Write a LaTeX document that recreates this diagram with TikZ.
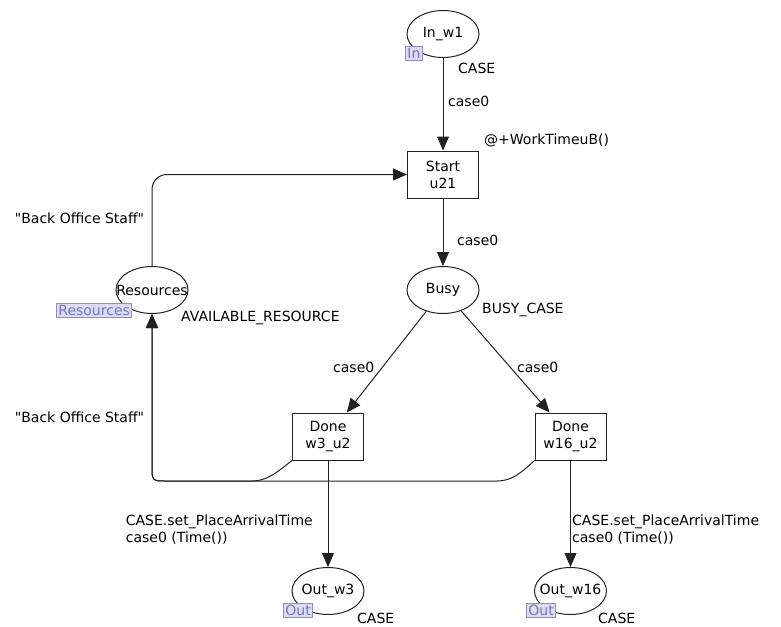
\documentclass[tikz,border=0pt]{standalone}
\usepackage{fontspec}
\setmainfont{DejaVu Sans}
\usetikzlibrary{arrows.meta,shapes.geometric}
\definecolor{tagfill}{HTML}{DCDCF4}
\definecolor{tagline}{HTML}{8C8CCC}
\definecolor{tagtext}{HTML}{7676B8}
\definecolor{netline}{HTML}{222222}
\tikzset{
  every node/.style={font=\fontsize{14}{17}\selectfont, inner sep=0pt},
  place/.style={draw=netline, line width=1pt, ellipse, minimum width=72pt, minimum height=47pt},
  trans/.style={draw=netline, line width=1pt, rectangle, minimum width=71pt, minimum height=47pt, align=center},
  porttag/.style={draw=tagline, fill=tagfill, text=tagtext, line width=0.8pt, inner xsep=2pt, minimum height=14pt, anchor=north west},
  arc/.style={draw=netline, line width=1pt, -{Triangle[length=14pt,width=12pt]}},
  inscr/.style={anchor=west}
}
\newcommand{\qt}[1]{\textquotedbl#1\textquotedbl}
\begin{document}
\begin{tikzpicture}[x=1pt, y=-1pt]
    \useasboundingbox (0, 0) rectangle (781, 626) ;
    \begin{scope}
      \node[place, label=center:In\_w1] (inw1) at (443, 34) {} ;
      \node[porttag] (tagin) at (405, 46) {In} ;
      \node[trans] (start) at (443, 174.5) {Start\\u21} ;
      \node[place, label=center:Busy] (busy) at (443, 290) {} ;
      \node[place, label=center:Resources] (res) at (152, 290) {} ;
      \node[porttag] (tagres) at (56, 303) {Resources\hspace{5pt}} ;
      \node[trans] (done3) at (328, 436.5) {Done\\w3\_u2} ;
      \node[trans] (done16) at (570.5, 436.5) {Done\\w16\_u2} ;
      \node[place, label=center:Out\_w3] (outw3) at (328, 591) {} ;
      \node[porttag] (tagout3) at (283, 603) {Out} ;
      \node[place, label=center:Out\_w16] (outw16) at (570.5, 591) {} ;
      \node[porttag] (tagout16) at (526, 603) {Out} ;
      \coordinate (loop) at (152, 481) ;
      \coordinate (loopa) at (167, 481) ;
      \coordinate (loopb) at (152, 466) ;
      \coordinate (j3) at (252, 481) ;
      \coordinate (j16) at (497, 481) ;

      \draw[arc] (inw1) -- (start) ;
      \draw[arc] (start) -- (busy) ;
      \draw[arc] (busy) -- (done3) ;
      \draw[arc] (busy) -- (done16) ;
      \draw[arc] (done3) -- (outw3) ;
      \draw[arc] (done16) -- (outw16) ;
      \draw[arc, rounded corners=15pt] (res) |- (start) ;
      \draw[arc] (done3.south west) .. controls (275, 474) and (266, 481) .. (j3) -- (loopa) .. controls (loop) .. (loopb) -- (res) ;
      \draw[arc] (done16.south west) .. controls (520, 474) and (511, 481) .. (j16) -- (loopa) .. controls (loop) .. (loopb) -- (res) ;

      \node[inscr] (lcase) at (458, 68) {CASE} ;
      \node[inscr] (linst) at (448, 101) {case0} ;
      \node[inscr] (ltime) at (484, 140) {@+WorkTimeuB()} ;
      \node[inscr] (lbusyin) at (457, 240) {case0} ;
      \node[inscr] (lbusy) at (482, 310) {BUSY\_CASE} ;
      \node (lstaff1) at (79.5, 218) {\qt{Back Office Staff}} ;
      \node (lstaff2) at (79.5, 417) {\qt{Back Office Staff}} ;
      \node[inscr] (lavail) at (181, 318) {AVAILABLE\_RESOURCE} ;
      \node[inscr] (ldone3) at (333, 367) {case0} ;
      \node[inscr] (ldone16) at (517, 367) {case0} ;
      \node[anchor=north east, align=left] (lout3) at (313, 515) {CASE.set\_PlaceArrivalTime\\case0 (Time())} ;
      \node[anchor=north west, align=left] (lout16) at (572, 515) {CASE.set\_PlaceArrivalTime\\case0 (Time())} ;
      \node[inscr] (lcase3) at (357, 618) {CASE} ;
      \node[inscr] (lcase16) at (598, 618) {CASE} ;
    \end{scope}
  \end{tikzpicture}
\end{document}
